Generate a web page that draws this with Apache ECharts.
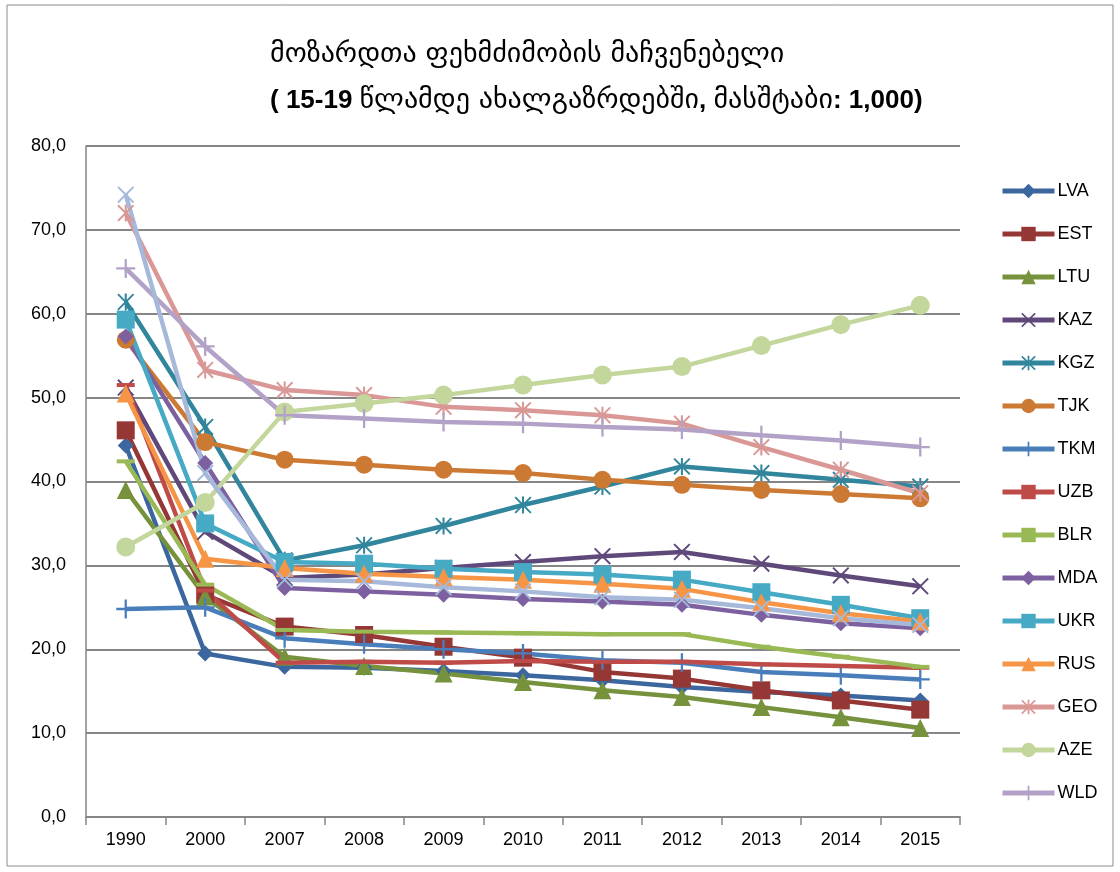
<!DOCTYPE html>
<html>
<head>
<meta charset="utf-8">
<script src="https://cdn.jsdelivr.net/npm/echarts@6/dist/echarts.min.js"></script>
<style>
  html, body { margin: 0; padding: 0; background: #fff; }
  #container { width: 1120px; height: 872px; }
</style>
</head>
<body>
<div id="container"></div>
<script>
var years = ['1990', '2000', '2007', '2008', '2009', '2010', '2011', '2012', '2013', '2014', '2015'];

var LVA = [44.3, 19.5, 17.9, 17.8, 17.4, 16.9, 16.3, 15.5, 14.9, 14.5, 13.9];
var EST = [46.1, 26.5, 22.7, 21.7, 20.3, 19.0, 17.3, 16.5, 15.1, 13.9, 12.8];
var LTU = [39.0, 26.3, 19.1, 18.0, 17.1, 16.1, 15.1, 14.3, 13.1, 11.9, 10.6];
var KAZ = [51.2, 34.0, 28.5, 28.9, 29.7, 30.4, 31.1, 31.6, 30.2, 28.8, 27.5];
var KGZ = [61.4, 46.5, 30.6, 32.4, 34.7, 37.2, 39.4, 41.8, 41.0, 40.2, 39.4];
var TJK = [56.9, 44.7, 42.6, 42.0, 41.4, 41.0, 40.2, 39.6, 39.0, 38.5, 38.0];
var TKM = [24.8, 25.0, 21.3, 20.6, 20.0, 19.5, 18.7, 18.4, 17.3, 16.9, 16.4];
var UZB = [51.5, 27.0, 18.4, 18.5, 18.4, 18.6, 18.5, 18.5, 18.2, 18.0, 17.8];
var BLR = [42.4, 27.7, 22.3, 22.1, 22.0, 21.9, 21.8, 21.8, 20.3, 19.1, 17.9];
var MDA = [57.3, 42.2, 27.3, 26.9, 26.5, 26.0, 25.7, 25.3, 24.1, 23.1, 22.5];
var UKR = [59.3, 35.0, 30.4, 30.2, 29.6, 29.2, 28.9, 28.3, 26.8, 25.3, 23.7];
var RUS = [50.5, 30.8, 29.7, 29.0, 28.6, 28.3, 27.8, 27.2, 25.6, 24.3, 23.3];
var GEO = [72.0, 53.3, 50.9, 50.3, 48.9, 48.5, 47.9, 46.9, 44.1, 41.4, 38.6];
var AZE = [32.2, 37.5, 48.3, 49.3, 50.3, 51.5, 52.7, 53.7, 56.2, 58.7, 61.0];
var WLD = [65.4, 56.1, 47.9, 47.5, 47.1, 46.9, 46.5, 46.2, 45.5, 44.9, 44.1];
// 16th series, not shown in the legend
var ARM = [74.2, 41.0, 28.3, 28.1, 27.4, 26.9, 26.2, 25.9, 24.9, 23.7, 22.9];

var legendNames = ['LVA', 'EST', 'LTU', 'KAZ', 'KGZ', 'TJK', 'TKM', 'UZB', 'BLR', 'MDA', 'UKR', 'RUS', 'GEO', 'AZE', 'WLD'];

// marker shapes
var xMark = 'path://M0,0.8L0.8,0L5,4.2L9.2,0L10,0.8L5.8,5L10,9.2L9.2,10L5,5.8L0.8,10L0,9.2L4.2,5Z';
var starMark = xMark + 'M4.4,0L5.6,0L5.6,10L4.4,10Z';
var plusMark = 'path://M4.4,0H5.6V4.4H10V5.6H5.6V10H4.4V5.6H0V4.4H4.4Z';

function mk(name, data, color, symbol, size) {
    return {
        name: name,
        type: 'line',
        data: data,
        color: color,
        symbol: symbol,
        symbolSize: size,
        showAllSymbol: true,
        lineStyle: { width: 4.5, color: color },
        itemStyle: { color: color },
        emphasis: { disabled: true },
        z: 2
    };
}

var dom = document.getElementById('container');
var myChart = echarts.init(dom);
var option = {
    animation: false,
    backgroundColor: '#fff',
    textStyle: { fontFamily: 'Liberation Sans' },
    graphic: [{
        type: 'rect',
        shape: { x: 7, y: 5, width: 1106, height: 861 },
        style: { fill: 'none', stroke: '#8c8c8c', lineWidth: 1 },
        z: -1
    }],
    title: {
        left: 265,
        top: 27,
        text: '{n|მოზარდთა ფეხმძიმობის მაჩვენებელი}\n{b|( 15-19 }{n|წლამდე ახალგაზრდებში}{b|, }{n|მასშტაბი}{b|: 1,000)}',
        textStyle: {
            fontWeight: 'normal',
            rich: {
                n: { fontFamily: 'DejaVu Sans', fontWeight: 'normal', fontSize: 28, color: '#000', lineHeight: 46 },
                b: { fontFamily: 'Liberation Sans', fontWeight: 'bold', fontSize: 26, color: '#000', lineHeight: 46 }
            }
        }
    },
    legend: {
        orient: 'vertical',
        left: 995,
        top: 177,
        itemWidth: 52,
        itemHeight: 18,
        itemGap: 25,
        data: legendNames,
        lineStyle: { width: 5 },
        textStyle: { fontSize: 18, color: '#000', fontFamily: 'Liberation Sans', padding: [0, 0, 0, -2] }
    },
    grid: { left: 86, right: 160, top: 146, bottom: 55 },
    xAxis: {
        type: 'category',
        data: years,
        boundaryGap: true,
        axisLine: { lineStyle: { color: '#868686', width: 2 } },
        axisTick: { show: true, interval: 0, length: 8, lineStyle: { color: '#868686', width: 1.5 } },
        axisLabel: { fontSize: 18, color: '#000', margin: 14 }
    },
    yAxis: {
        type: 'value',
        min: 0,
        max: 80,
        interval: 10,
        axisLine: { show: true, lineStyle: { color: '#868686', width: 1.5 } },
        axisTick: { show: false },
        splitLine: { lineStyle: { color: '#868686', width: 2 } },
        axisLabel: {
            fontSize: 18,
            color: '#000',
            margin: 20,
            formatter: function (v) { return v.toFixed(1).replace('.', ','); }
        }
    },
    series: [
        mk('LVA', LVA, '#3B679E', 'diamond', 16),
        mk('EST', EST, '#953735', 'rect', 18),
        mk('LTU', LTU, '#76923C', 'triangle', 18),
        mk('KAZ', KAZ, '#5F497A', xMark, 17),
        mk('KGZ', KGZ, '#31859C', starMark, 17),
        mk('TJK', TJK, '#CC7A33', 'circle', 18),
        mk('TKM', TKM, '#4A7EBB', plusMark, 19),
        mk('UZB', UZB, '#BE4B48', 'rect', [18, 4]),
        mk('BLR', BLR, '#98B954', 'rect', [18, 4]),
        mk('MDA', MDA, '#7D60A0', 'diamond', 16),
        mk('UKR', UKR, '#46AAC5', 'rect', 18),
        mk('RUS', RUS, '#F69546', 'triangle', 18),
        mk('GEO', GEO, '#D99795', starMark, 17),
        mk('AZE', AZE, '#C3D69B', 'circle', 19),
        mk('WLD', WLD, '#B3A2C7', plusMark, 19),
        mk('ARM', ARM, '#A6B9DA', xMark, 17)
    ]
};
if (option && typeof option === 'object') {
    myChart.setOption(option, true);
}
</script>
</body>
</html>
